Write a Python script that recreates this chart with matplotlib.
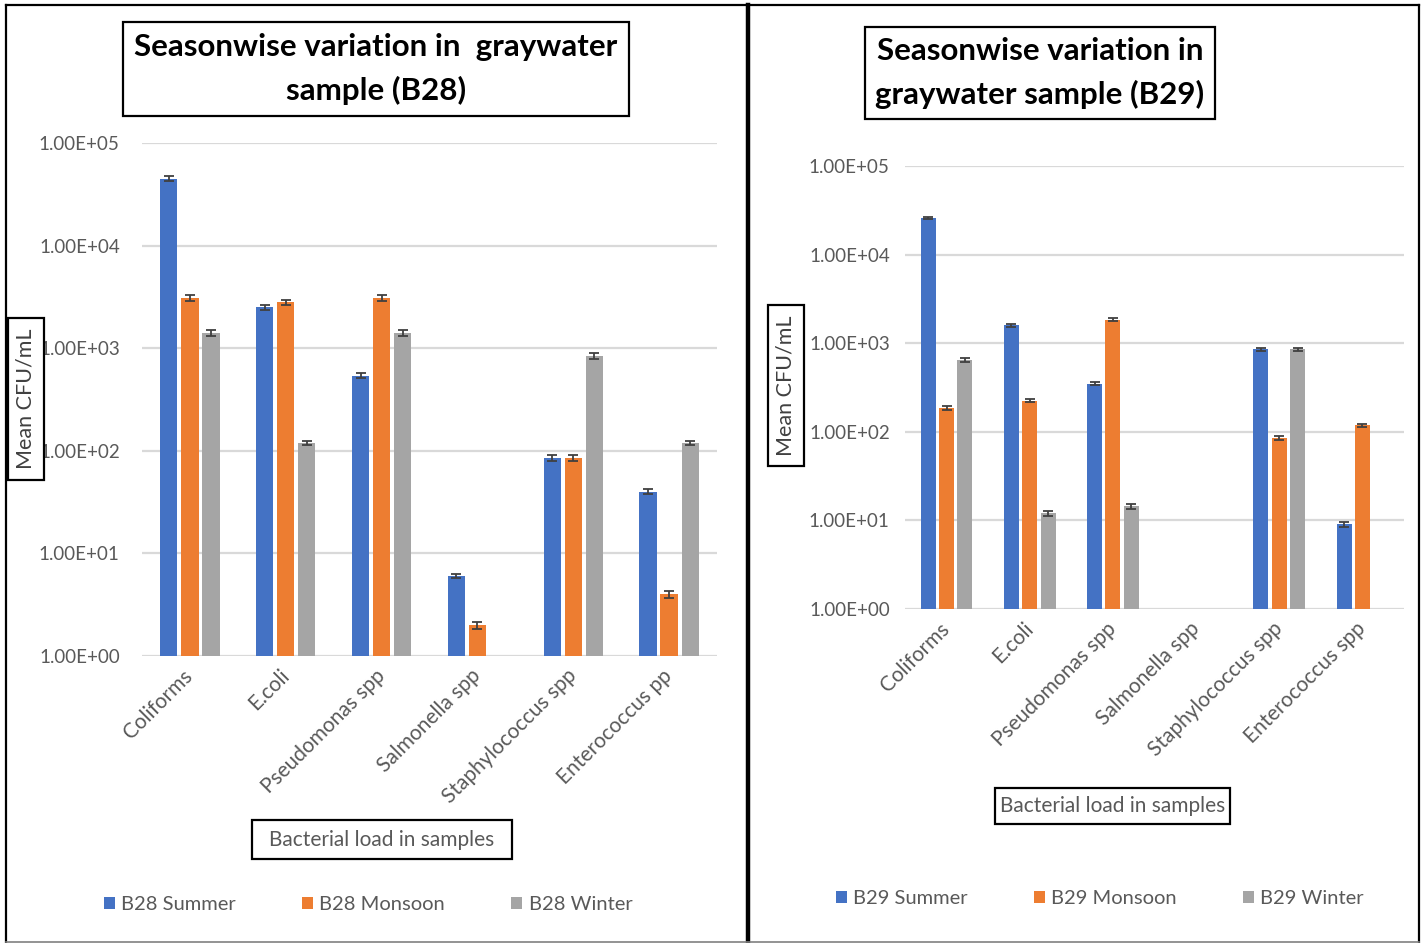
import numpy as np
import matplotlib.pyplot as plt
from matplotlib.patches import Rectangle
from matplotlib.lines import Line2D
from matplotlib.ticker import FixedLocator, FuncFormatter, NullLocator

plt.rcParams['font.family'] = ['Lato', 'DejaVu Sans']

# ---- data ----
cats_b28 = ["Coliforms", "E.coli", "Pseudomonas spp", "Salmonella spp",
            "Staphylococcus spp", "Enterococcus pp"]
cats_b29 = ["Coliforms", "E.coli", "Pseudomonas spp", "Salmonella spp",
            "Staphylococcus spp", "Enterococcus spp"]

b28_summer = [45000, 2500, 540, 6, 85, 40]
b28_monsoon = [3100, 2800, 3100, 2, 85, 4]
b28_winter = [1400, 120, 1400, np.nan, 840, 120]
b28_summer_err = [2500, 150, 30, 0.3, 5, 2]
b28_monsoon_err = [200, 180, 200, 0.15, 5, 0.3]
b28_winter_err = [90, 6, 90, np.nan, 50, 6]

b29_summer = [26000, 1600, 350, np.nan, 850, 9]
b29_monsoon = [185, 225, 1850, np.nan, 85, 118]
b29_winter = [650, 12, 14.5, np.nan, 850, np.nan]
b29_summer_err = [900, 60, 15, np.nan, 35, 0.5]
b29_monsoon_err = [10, 10, 70, np.nan, 4, 6]
b29_winter_err = [30, 0.7, 1, np.nan, 35, np.nan]

colors = ["#4472C4", "#ED7D31", "#A5A5A5"]
W, H = 1427, 943

fig = plt.figure(figsize=(W / 100, H / 100), dpi=100)


def fig_box(x0, y0, x1, y1, lw=1.6):
    r = Rectangle((x0 / W, 1 - y1 / H), (x1 - x0) / W, (y1 - y0) / H,
                  transform=fig.transFigure, fc="white", ec="black", lw=lw, zorder=2)
    fig.patches.append(r)


def fig_line(xs, ys, lw, color="black"):
    fig.add_artist(Line2D([x / W for x in xs], [1 - y / H for y in ys],
                          transform=fig.transFigure, color=color, lw=lw, zorder=5))


def panel(ax, cats, series, errs, labels, title, title_box, ylab_box, xlab_box,
          leg_xy, ypad):
    x = np.arange(len(cats))
    width, step = 0.18, 0.22
    handles = []
    for i, (vals, err) in enumerate(zip(series, errs)):
        pos = x + (i - 1) * step
        b = ax.bar(pos, vals, width, color=colors[i], zorder=2, label=labels[i])
        ax.errorbar(pos, vals, yerr=err, fmt="none", ecolor="#404040",
                    elinewidth=1.3, capsize=3.5, capthick=1.3, zorder=3)
        handles.append(b)
    ax.set_yscale("log")
    ax.set_ylim(1, 1e5)
    ax.set_xlim(-0.5, len(cats) - 0.5)
    ax.yaxis.set_major_locator(FixedLocator([1, 10, 100, 1e3, 1e4, 1e5]))
    ax.yaxis.set_minor_locator(NullLocator())
    ax.yaxis.set_major_formatter(FuncFormatter(lambda v, p: f"{v:.2E}"))
    ax.grid(axis="y", color="#D9D9D9", lw=1.6, zorder=0)
    ax.set_axisbelow(True)
    for s in ax.spines.values():
        s.set_visible(False)
    ax.tick_params(axis="both", length=0, labelcolor="#595959")
    ax.tick_params(axis="y", pad=ypad, labelsize=13.5)
    ax.set_xticks(x)
    ax.set_xticklabels(cats, rotation=45, ha="right", va="center",
                       rotation_mode="anchor", fontsize=15)
    ax.tick_params(axis="x", pad=12)

    # title box
    fig_box(*title_box)
    cx = (title_box[0] + title_box[2]) / 2
    cy = (title_box[1] + title_box[3]) / 2
    fig.text(cx / W, 1 - cy / H, title, ha="center", va="center",
             fontsize=22.5, fontweight="bold", linespacing=1.62, zorder=3)

    # y label box
    fig_box(*ylab_box)
    cx = (ylab_box[0] + ylab_box[2]) / 2
    cy = (ylab_box[1] + ylab_box[3]) / 2
    fig.text(cx / W, 1 - cy / H, "Mean CFU/mL", rotation=90, ha="center",
             va="center", fontsize=15.5, color="#404040", zorder=3)

    # x label box
    fig_box(*xlab_box)
    cx = (xlab_box[0] + xlab_box[2]) / 2
    cy = (xlab_box[1] + xlab_box[3]) / 2
    fig.text(cx / W, 1 - cy / H, "Bacterial load in samples", ha="center",
             va="center", fontsize=15, color="#595959", zorder=3)

    fig.legend(handles=handles, loc="center",
               bbox_to_anchor=(leg_xy[0] / W, 1 - leg_xy[1] / H),
               ncol=3, frameon=False, fontsize=14.5, handlelength=0.55,
               handleheight=0.55, handletextpad=0.3, columnspacing=3.3,
               labelcolor="#595959")


axL = fig.add_axes([142 / W, 1 - 656 / H, 575 / W, 513 / H])
panel(axL, cats_b28, [b28_summer, b28_monsoon, b28_winter],
      [b28_summer_err, b28_monsoon_err, b28_winter_err],
      ["B28 Summer", "B28 Monsoon", "B28 Winter"],
      "Seasonwise variation in  graywater\nsample (B28)",
      (123, 22, 629, 116), (8, 318, 44, 480), (252, 820, 512, 859),
      (368, 905), 16)

axR = fig.add_axes([905 / W, 1 - 609 / H, 499 / W, 443 / H])
panel(axR, cats_b29, [b29_summer, b29_monsoon, b29_winter],
      [b29_summer_err, b29_monsoon_err, b29_winter_err],
      ["B29 Summer", "B29 Monsoon", "B29 Winter"],
      "Seasonwise variation in\ngraywater sample (B29)",
      (865, 27, 1215, 119), (768, 305, 804, 466), (995, 788, 1230, 824),
      (1100, 899), 11)

# panel frames
fig_line([6, 1419], [5, 5], 1.6)
fig_line([6, 6], [5, 942], 1.6)
fig_line([1419, 1419], [5, 942], 1.6)
fig_line([748, 748], [5, 943], 3.2)
fig_line([6, 1419], [942, 942], 1.2, color="#808080")

fig.savefig("out.png", dpi=100)
